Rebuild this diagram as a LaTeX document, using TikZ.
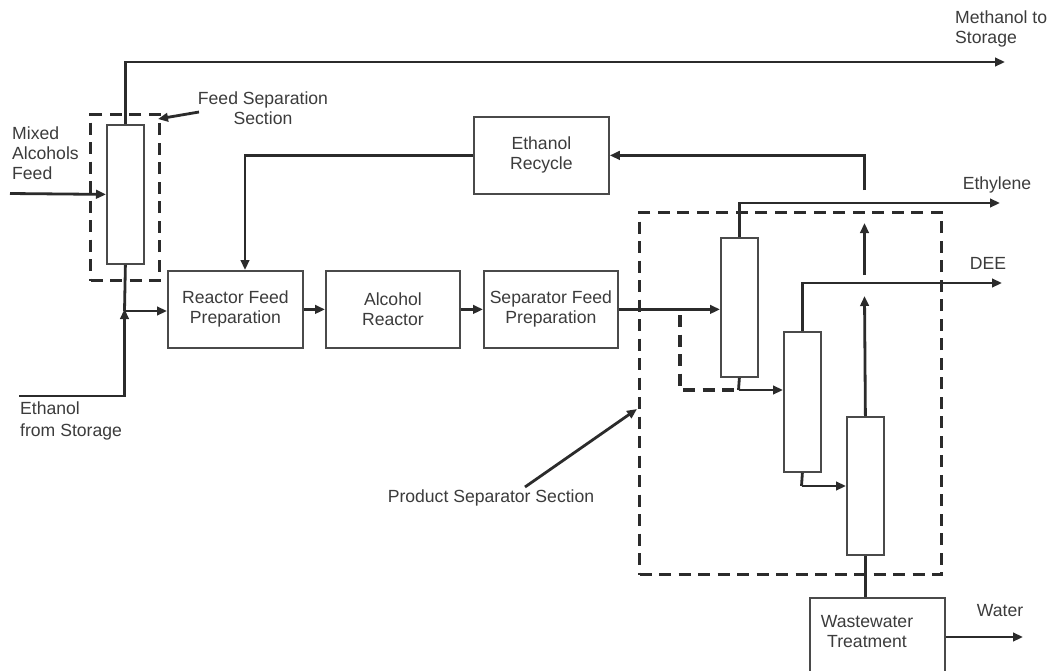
\documentclass[tikz,border=0pt]{standalone}
\usepackage{fontspec}
\setmainfont{Liberation Sans}
\usetikzlibrary{arrows.meta,calc}
\definecolor{ink}{HTML}{2B2B2B}
\definecolor{txt}{HTML}{3C3C3C}
\definecolor{edge}{HTML}{4A4A4A}
\begin{document}
\begin{tikzpicture}[x=1pt,y=-1pt,
  font=\fontsize{17.6}{20}\selectfont,
  every node/.style={text=txt},
  flow/.style={draw=ink,line width=2.8pt,-{Triangle[length=10pt,width=8.5pt]}},
  pipe/.style={draw=ink,line width=2.8pt},
  dashline/.style={draw=ink,line width=3.2pt,dash pattern=on 12pt off 7.5pt},
  procbox/.style={draw=edge,line width=1.8pt,fill=white,inner sep=0pt,anchor=north west,
                  minimum width=#1,minimum height=77pt,align=center},
  colbox/.style={draw=edge,line width=1.8pt,fill=white,inner sep=0pt,anchor=north west,
                 minimum width=37pt,minimum height=#1},
  secbox/.style={dashline,inner sep=0pt,anchor=north west},
  lbl/.style={inner sep=0pt,align=left}
]
\clip (0,0) rectangle (1050,670);
\fill[white] (0,0) rectangle (1050,670);

% dashed section outlines
\node[secbox,minimum width=69pt,minimum height=166pt] (fsbox) at (89,113) {};
\node[secbox,minimum width=302pt,minimum height=362pt] (psbox) at (638,211) {};

% separation columns
\node[colbox=139pt] (c1) at (106,124) {};
\node[colbox=139pt] (c2) at (720,237) {};
\node[colbox=140pt] (c3) at (783,331) {};
\node[colbox=138pt] (c4) at (846,416) {};

% process blocks
\node[procbox=135pt] (rfp) at (167,270) {Reactor Feed\\Preparation};
\node[procbox=134pt] (ar)  at (325,270) {Alcohol\\Reactor};
\node[procbox=134pt] (sfp) at (483,270) {Separator Feed\\Preparation};
\node[procbox=135pt] (er)  at (473,116) {Ethanol\\Recycle};
\node[draw=edge,line width=1.8pt,inner sep=0pt,anchor=north west,
      minimum width=135pt,minimum height=100pt] (ww) at (809,597) {};
\node[align=center] (wwtext) at (867,632) {Wastewater\\Treatment};

% stream end points
\coordinate (mixin) at (10,193.5);
\coordinate (meth) at (1005,62);
\coordinate (jn) at (124.5,311);
\coordinate (etin) at (19,396);
\coordinate (rin) at (245,270);
\coordinate (ethout) at (1000,203);
\coordinate (deeout) at (1002,283);
\coordinate (dbr) at (680,315);
\coordinate (c2j) at (738.5,390);
\coordinate (c3j) at (801.5,486);
\coordinate (wout) at (1023,637);
\coordinate (b1) at (864.5,296);
\coordinate (b2) at (864.5,275);
\coordinate (b3) at (864.5,223);
\coordinate (b4) at (864.5,190);
\coordinate (fstip) at (158,119);
\coordinate (pstip) at (637,409);

% feed section
\draw[flow] (mixin) -- (c1.west);
\draw[flow] (c1.north) |- (meth);
\draw[pipe] (c1.south) -- (jn);
\draw[flow,shorten >=-2pt] (etin) -| (jn);
\draw[flow] (jn) -- (rfp.west |- jn);

% main train
\draw[flow] (rfp.east) -- (ar.west);
\draw[flow] (ar.east) -- (sfp.west |- ar.east);
\draw[flow] (sfp.east) -- (c2.west |- sfp.east);

% product separation
\draw[dashline] (dbr) |- (c2j);
\draw[pipe] (c2.south) -- (c2j);
\draw[flow] (c2j) -- (c3.west |- c2j);
\draw[flow] (c2.north) |- (ethout);
\draw[flow] (c3.north) |- (deeout);
\draw[pipe] (c3.south) -- (c3j);
\draw[flow] (c3j) -- (c4.west |- c3j);
\draw[flow] (c4.north) -- (b1);
\draw[flow] (b2) -- (b3);
\draw[flow] (b4) |- (er.east);
\draw[flow] (er.west) -| (rin);
\draw[pipe] (c4.south) -- (c4.south |- ww.north);
\draw[flow] (ww.east |- wout) -- (wout);

% stream and section labels
\node[lbl,anchor=west] (lmix) at (12,153) {Mixed\\Alcohols\\Feed};
\node[lbl,anchor=west] (leth) at (20,421) {Ethanol\\[2pt]from Storage};
\node[lbl,anchor=west] (lmeth) at (955,29) {Methanol to\\Storage};
\node[lbl,align=center] (lfs) at (263,108) {Feed Separation\\Section};
\node[lbl] (lethy) at (997,185) {Ethylene};
\node[lbl] (ldee) at (988,263) {DEE};
\node[lbl] (lwater) at (1000,611) {Water};
\node[lbl] (lps) at (491,498) {Product Separator Section};

\draw[flow] (199,112) -- (fstip);
\draw[flow] (525,487) -- (pstip);
\end{tikzpicture}
\end{document}
